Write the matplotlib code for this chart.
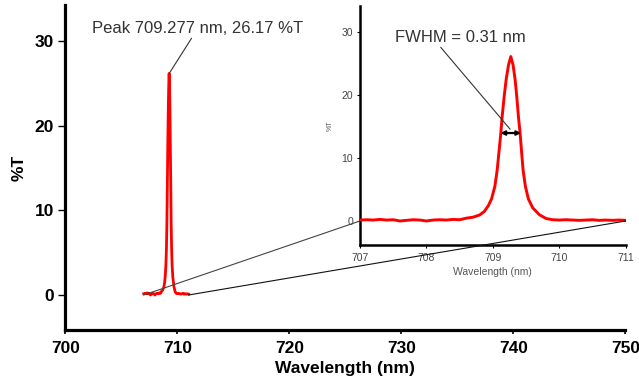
import matplotlib
matplotlib.use("Agg")
import matplotlib.pyplot as plt
from matplotlib.patches import ConnectionPatch

plt.rcParams['font.family'] = ['Liberation Sans', 'DejaVu Sans']

# Spectrum data
wavelength = [707.0, 707.1, 707.2, 707.3, 707.4, 707.5, 707.6, 707.7, 707.8, 707.9,
              708.0, 708.1, 708.2, 708.3, 708.4, 708.5, 708.6, 708.7, 708.8, 708.87,
              708.93, 708.98, 709.03, 709.065, 709.095, 709.12, 709.14, 709.17, 709.20, 709.235,
              709.27, 709.305, 709.335, 709.36, 709.385, 709.41, 709.43, 709.455, 709.49, 709.535,
              709.6, 709.7, 709.8, 709.9, 710.0, 710.1, 710.2, 710.3, 710.4, 710.5,
              710.6, 710.7, 710.8, 710.9, 711.0]
transmission = [0.15, 0.2, 0.15, 0.25, 0.15, 0.2, 0.0, 0.1, 0.2, 0.15,
                0.0, 0.15, 0.2, 0.15, 0.25, 0.2, 0.45, 0.6, 0.95, 1.5,
                2.4, 3.5, 5.5, 8.1, 11.3, 14.0, 16.6, 19.8, 22.5, 24.8,
                26.17, 24.8, 22.5, 19.8, 16.6, 14.0, 11.3, 8.1, 5.5, 3.5,
                2.1, 1.0, 0.4, 0.2, 0.15, 0.2, 0.15, 0.1, 0.15, 0.2,
                0.1, 0.15, 0.1, 0.15, 0.1]

main_xticks = [700, 710, 720, 730, 740, 750]
main_yticks = [0, 10, 20, 30]
inset_xticks = [707, 708, 709, 710, 711]
inset_yticks = [0, 10, 20, 30]

peak_wl = 709.277
peak_T = 26.17
fwhm_left = 709.115
fwhm_right = 709.425
fwhm_y = 14.0

fig = plt.figure(figsize=(6.39, 3.81), dpi=100)

# ---- main axes ----
ax = fig.add_axes([0.1022, 0.1339, 0.8764, 0.853])
ax.plot(wavelength, transmission, color='#ff0000', lw=2.0, zorder=3)
ax.set_xlim(700, 750)
ax.set_ylim(-4.13, 34.25)
ax.set_xticks(main_xticks)
ax.set_yticks(main_yticks)
for s in ['top', 'right']:
    ax.spines[s].set_visible(False)
for s in ['left', 'bottom']:
    ax.spines[s].set_linewidth(2.3)
ax.tick_params(axis='x', direction='out', length=3, width=1.2, pad=5, labelsize=12.5)
ax.tick_params(axis='y', direction='out', length=5, width=1.0, pad=3, labelsize=12.5)
for lab in ax.get_xticklabels() + ax.get_yticklabels():
    lab.set_fontweight('bold')
ax.set_xlabel('Wavelength (nm)', fontsize=12.5, fontweight='bold', labelpad=3.5)
ax.set_ylabel('%T', fontsize=12.5, fontweight='bold', labelpad=6)

ax.annotate('Peak 709.277 nm, 26.17 %T', xy=(peak_wl, peak_T),
            xytext=(702.38, 31.0), textcoords='data',
            fontsize=12, color='#333333', ha='left', va='baseline',
            arrowprops=dict(arrowstyle='-', color='#333333', lw=0.8,
                            shrinkA=0, shrinkB=0, relpos=(0.48, 0.0)))

# ---- inset axes ----
ins = fig.add_axes([0.5634, 0.357, 0.4158, 0.627])
ins.plot(wavelength, transmission, color='#ff0000', lw=2.1, zorder=3)
ins.set_xlim(707, 711)
ins.set_ylim(-3.82, 34.2)
ins.set_xticks(inset_xticks)
ins.set_yticks(inset_yticks)
for s in ['top', 'right']:
    ins.spines[s].set_visible(False)
for s in ['left', 'bottom']:
    ins.spines[s].set_linewidth(1.8)
ins.tick_params(direction='out', length=2.5, width=0.8, pad=2.5, labelsize=7.5,
                labelcolor='#444444')
ins.tick_params(axis='x', pad=3.5)
ins.set_xlabel('Wavelength (nm)', fontsize=7.5, color='#555555', labelpad=2.5)
ins.set_ylabel('%T', fontsize=5, color='#555555')
ins.yaxis.set_label_coords(-0.1, 0.5)

ins.annotate('', xy=(fwhm_right, fwhm_y), xytext=(fwhm_left, fwhm_y),
             arrowprops=dict(arrowstyle='<->', color='black', lw=1.6,
                             shrinkA=0, shrinkB=0, mutation_scale=6))
ins.annotate('FWHM = 0.31 nm', xy=(709.26, 14.6), xytext=(707.53, 28.56),
             textcoords='data', fontsize=12, color='#333333', ha='left', va='baseline',
             arrowprops=dict(arrowstyle='-', color='#333333', lw=0.8,
                             shrinkA=0, shrinkB=0, relpos=(0.33, 0.0)))

# ---- zoom connector lines ----
con1 = ConnectionPatch(xyA=(wavelength[0], 0), coordsA=ax.transData,
                       xyB=(inset_xticks[0], 0), coordsB=ins.transData,
                       color='#444444', lw=0.8, zorder=5)
con2 = ConnectionPatch(xyA=(wavelength[-1], 0), coordsA=ax.transData,
                       xyB=(inset_xticks[-1], 0), coordsB=ins.transData,
                       color='#111111', lw=0.8, zorder=5)
fig.add_artist(con1)
fig.add_artist(con2)

fig.savefig('out.png', dpi=100)
